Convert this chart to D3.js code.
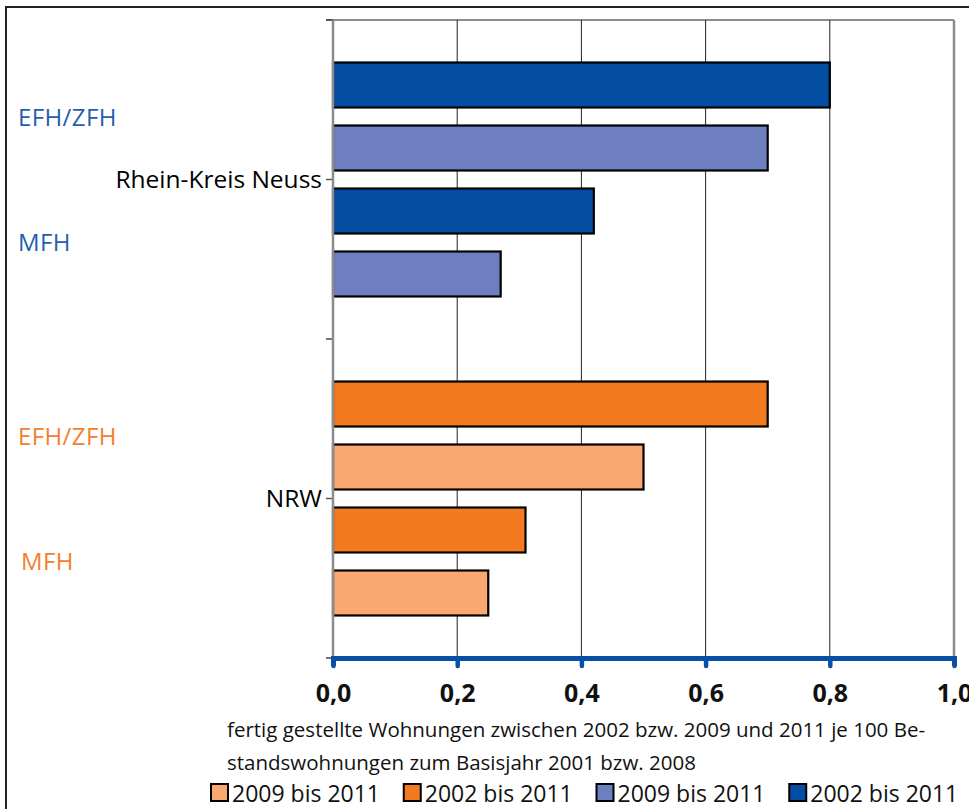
<!DOCTYPE html>
<html>
<head>
<meta charset="utf-8">
<script src="https://cdn.jsdelivr.net/npm/d3@7"></script>
<style>
  html, body { margin: 0; padding: 0; background: #fff; }
  svg { display: block; font-family: "Open Sans", "Noto Sans", sans-serif; }
</style>
</head>
<body>
<svg id="chart" width="969" height="809"></svg>
<script>
// ---- data ----
const groups = ["Rhein-Kreis Neuss", "NRW"];
const seriesKeys = ["EFH/ZFH 2002 bis 2011", "EFH/ZFH 2009 bis 2011", "MFH 2002 bis 2011", "MFH 2009 bis 2011"];
const valuesRKN = [0.80, 0.70, 0.42, 0.27];
const valuesNRW = [0.70, 0.50, 0.31, 0.25];
const colorsRKN = ["#034ea2", "#6e7fc0", "#034ea2", "#6e7fc0"];
const colorsNRW = ["#f47a20", "#f9a870", "#f47a20", "#f9a870"];
const xTicks = [0, 0.2, 0.4, 0.6, 0.8, 1.0];
const typeLabels = ["EFH/ZFH", "MFH"];
const typeLabelColors = ["#1f5fad", "#f4802e"];
const legendLabels = ["2009 bis 2011", "2002 bis 2011", "2009 bis 2011", "2002 bis 2011"];
const legendColors = ["#f9a870", "#f47a20", "#6e7fc0", "#034ea2"];
const axisTitle = ["fertig gestellte Wohnungen zwischen 2002 bzw. 2009 und 2011 je 100 Be-",
                   "standswohnungen zum Basisjahr 2001 bzw. 2008"];

const rows = groups.map((g, gi) => ({
  group: g,
  values: (gi === 0 ? valuesRKN : valuesNRW).map((v, i) => ({
    key: seriesKeys[i], value: v, color: (gi === 0 ? colorsRKN : colorsNRW)[i]
  }))
}));

// ---- layout ----
const svg = d3.select("#chart");
const plot = { left: 333, right: 954, top: 20, bottom: 658 };

// outer frame
svg.append("rect").attr("x", 6).attr("y", 7).attr("width", 1000).attr("height", 1000)
  .attr("fill", "none").attr("stroke", "#222").attr("stroke-width", 2);

const x = d3.scaleLinear().domain([0, 1]).range([plot.left, plot.right]);
const y0 = d3.scaleBand().domain(groups).range([plot.top, plot.bottom]).padding(0);
const y1 = d3.scaleBand().domain(seriesKeys).range([0, y0.bandwidth()])
  .paddingInner(0.286).paddingOuter(0.675);

// plot frame: top border (gray)
svg.append("line").attr("x1", plot.left - 7).attr("x2", plot.right)
  .attr("y1", plot.top).attr("y2", plot.top).attr("stroke", "#8c8c8c").attr("stroke-width", 2);

// gridlines
svg.append("g").selectAll("line").data(xTicks.filter(t => t > 0 && t < 1)).join("line")
  .attr("x1", d => x(d)).attr("x2", d => x(d))
  .attr("y1", plot.top).attr("y2", plot.bottom)
  .attr("stroke", "#222").attr("stroke-width", 1);
svg.append("line").attr("x1", x(1)).attr("x2", x(1)).attr("y1", plot.top).attr("y2", plot.bottom)
  .attr("stroke", "#8c8c8c").attr("stroke-width", 2.5);

// bars
const gGroups = svg.append("g").selectAll("g").data(rows).join("g")
  .attr("transform", d => `translate(0,${y0(d.group)})`);
gGroups.selectAll("rect").data(d => d.values).join("rect")
  .attr("x", x(0))
  .attr("y", d => y1(d.key))
  .attr("width", d => x(d.value) - x(0))
  .attr("height", y1.bandwidth())
  .attr("fill", d => d.color)
  .attr("stroke", "#000").attr("stroke-width", 2.2);

// y axis (left)
const yAxisG = svg.append("g").attr("transform", `translate(${plot.left},0)`)
  .call(d3.axisLeft(y0).tickSize(7).tickPadding(4));
yAxisG.select(".domain").remove();
yAxisG.selectAll(".tick line").attr("stroke", "#555").attr("stroke-width", 1.5);
yAxisG.selectAll(".tick text").attr("fill", "#000").style("font-size", "24.5px")
  .style("font-family", "'Open Sans', sans-serif").attr("dy", "0.35em");
// boundary ticks
svg.append("g").selectAll("line").data([plot.top, y0.step() + plot.top, plot.bottom]).join("line")
  .attr("x1", plot.left - 7).attr("x2", plot.left).attr("y1", d => d).attr("y2", d => d)
  .attr("stroke", "#444").attr("stroke-width", 1.5);
svg.append("line").attr("x1", plot.left).attr("x2", plot.left)
  .attr("y1", plot.top).attr("y2", plot.bottom).attr("stroke", "#8c8c8c").attr("stroke-width", 2.5);

// x axis (bottom, thick blue)
const xAxisG = svg.append("g").attr("transform", `translate(0,${plot.bottom})`)
  .call(d3.axisBottom(x).tickValues(xTicks).tickSize(8).tickPadding(18)
    .tickFormat(d => d3.format(".1f")(d).replace(".", ",")));
xAxisG.select(".domain").attr("stroke", "#0a4fa6").attr("stroke-width", 5);
xAxisG.selectAll(".tick line").attr("stroke", "#0a4fa6").attr("stroke-width", 4.5)
  .attr("stroke-linecap", "round");
xAxisG.selectAll(".tick text").attr("fill", "#111").style("font-size", "25px")
  .style("font-weight", "bold").style("font-family", "'Open Sans', sans-serif");

// axis title
svg.append("g").selectAll("text").data(axisTitle).join("text")
  .attr("x", 227).attr("y", (d, i) => 737 + i * 33)
  .style("font-size", "20.5px").attr("fill", "#111").text(d => d);

// type labels (EFH/ZFH, MFH) beside each group
rows.forEach((r, gi) => {
  typeLabels.forEach((lab, li) => {
    const a = y0(r.group) + y1(seriesKeys[li * 2]);
    const b = y0(r.group) + y1(seriesKeys[li * 2 + 1]) + y1.bandwidth();
    svg.append("text")
      .attr("x", gi === 1 && li === 1 ? 21 : 18)
      .attr("y", (a + b) / 2 + 9)
      .style("font-size", "24px")
      .style("letter-spacing", "0.4px")
      .attr("fill", typeLabelColors[gi])
      .text(lab);
  });
});

// legend
const legendX = d3.scaleBand().domain(d3.range(legendLabels.length)).range([210, 981]);
const lg = svg.append("g").selectAll("g").data(legendLabels).join("g")
  .attr("transform", (d, i) => `translate(${legendX(i)},783)`);
lg.append("rect").attr("x", 1).attr("y", 1).attr("width", 17).attr("height", 17)
  .attr("fill", (d, i) => legendColors[i]).attr("stroke", "#000").attr("stroke-width", 2);
lg.append("text").attr("x", 22).attr("y", 18.5).style("font-size", "23px").attr("fill", "#111")
  .text(d => d);
</script>
</body>
</html>
